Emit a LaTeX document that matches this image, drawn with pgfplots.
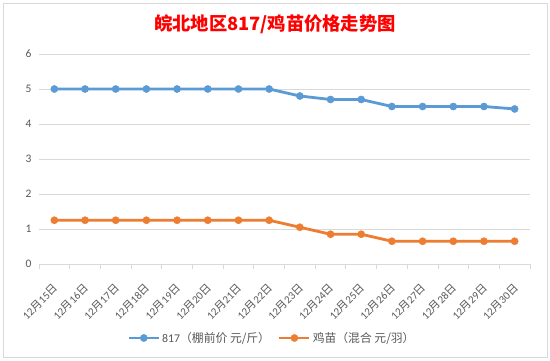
\documentclass[border=0pt]{standalone}
\usepackage{fontspec}
\usepackage{pgfplots}
\pgfplotsset{compat=1.18}
\setmainfont{Carlito}
\newfontfamily\cjk{Noto Sans CJK SC}
\definecolor{sblue}{HTML}{5B9BD5}
\definecolor{sorange}{HTML}{ED7D31}
\definecolor{tgray}{HTML}{595959}
\definecolor{ggray}{HTML}{D9D9D9}
\newcommand{\dl}[1]{12{\cjk 月}#1{\cjk 日}}
\begin{document}
\begin{tikzpicture}[x=1pt,y=1pt]
\fill[white] (0,0) rectangle (550,361);
\draw[ggray, line width=0.8pt] (3,4) rectangle (547,358);
\begin{axis}[
 at={(39pt,97pt)}, anchor=south west,
 scale only axis, width=491pt, height=210pt,
 xmin=-0.5, xmax=15.5, ymin=0, ymax=6,
 axis x line*=bottom, axis y line*=left,
 x axis line style={draw=ggray, line width=0.8pt, -},
 y axis line style={draw=none, -},
 ytick={0,...,6}, ymajorgrids, grid style={ggray, line width=0.8pt},
 xtick={0,...,15},
 minor xtick={-0.5,0.5,...,15.5},
 major tick length=0pt, minor tick length=5pt, tick align=outside,
 tick style={ggray, line width=0.8pt},
 /pgf/number format/assume math mode=true,
 xticklabels={\dl{15},\dl{16},\dl{17},\dl{18},\dl{19},\dl{20},\dl{21},\dl{22},\dl{23},\dl{24},\dl{25},\dl{26},\dl{27},\dl{28},\dl{29},\dl{30}},
 xticklabel style={rotate=45, anchor=north east, font=\fontsize{11}{12}\selectfont, text=tgray, xshift=-11.3pt, yshift=-8.5pt},
 yticklabel style={font=\fontsize{11.5}{14}\selectfont, text=tgray, xshift=-4pt},
 title={\cjk\bfseries 皖北地区817/鸡苗价格走势图},
 title style={at={(0.5,1)}, anchor=center, yshift=24pt, xshift=-9.5pt, text=red, font=\fontsize{18.3}{22}\selectfont},
 legend style={at={(0.4745,-0.3524)}, anchor=center, draw=none, fill=none, legend columns=2, font=\fontsize{11.8}{14}\selectfont, text=tgray, /tikz/every even column/.append style={column sep=6pt}},
 legend image code/.code={\draw[mark repeat=2,mark phase=2] plot coordinates {(0pt,0pt) (15pt,0pt) (30pt,0pt)};},
]
\addplot[sblue, line width=2.8pt, mark=*, mark size=3.6pt, mark options={solid, fill=sblue, draw=sblue, line width=0.4pt}] coordinates {
(0,5) (1,5) (2,5) (3,5) (4,5) (5,5) (6,5) (7,5) (8,4.8) (9,4.7) (10,4.7) (11,4.5) (12,4.5) (13,4.5) (14,4.5) (15,4.43)};
\addlegendentry{817{\cjk （棚前价 元/斤）}}
\addplot[sorange, line width=2.8pt, mark=*, mark size=3.6pt, mark options={solid, fill=sorange, draw=sorange, line width=0.4pt}] coordinates {
(0,1.25) (1,1.25) (2,1.25) (3,1.25) (4,1.25) (5,1.25) (6,1.25) (7,1.25) (8,1.05) (9,0.85) (10,0.85) (11,0.65) (12,0.65) (13,0.65) (14,0.65) (15,0.65)};
\addlegendentry{{\cjk 鸡苗（混合 元/羽）}}
\end{axis}
\end{tikzpicture}
\end{document}
